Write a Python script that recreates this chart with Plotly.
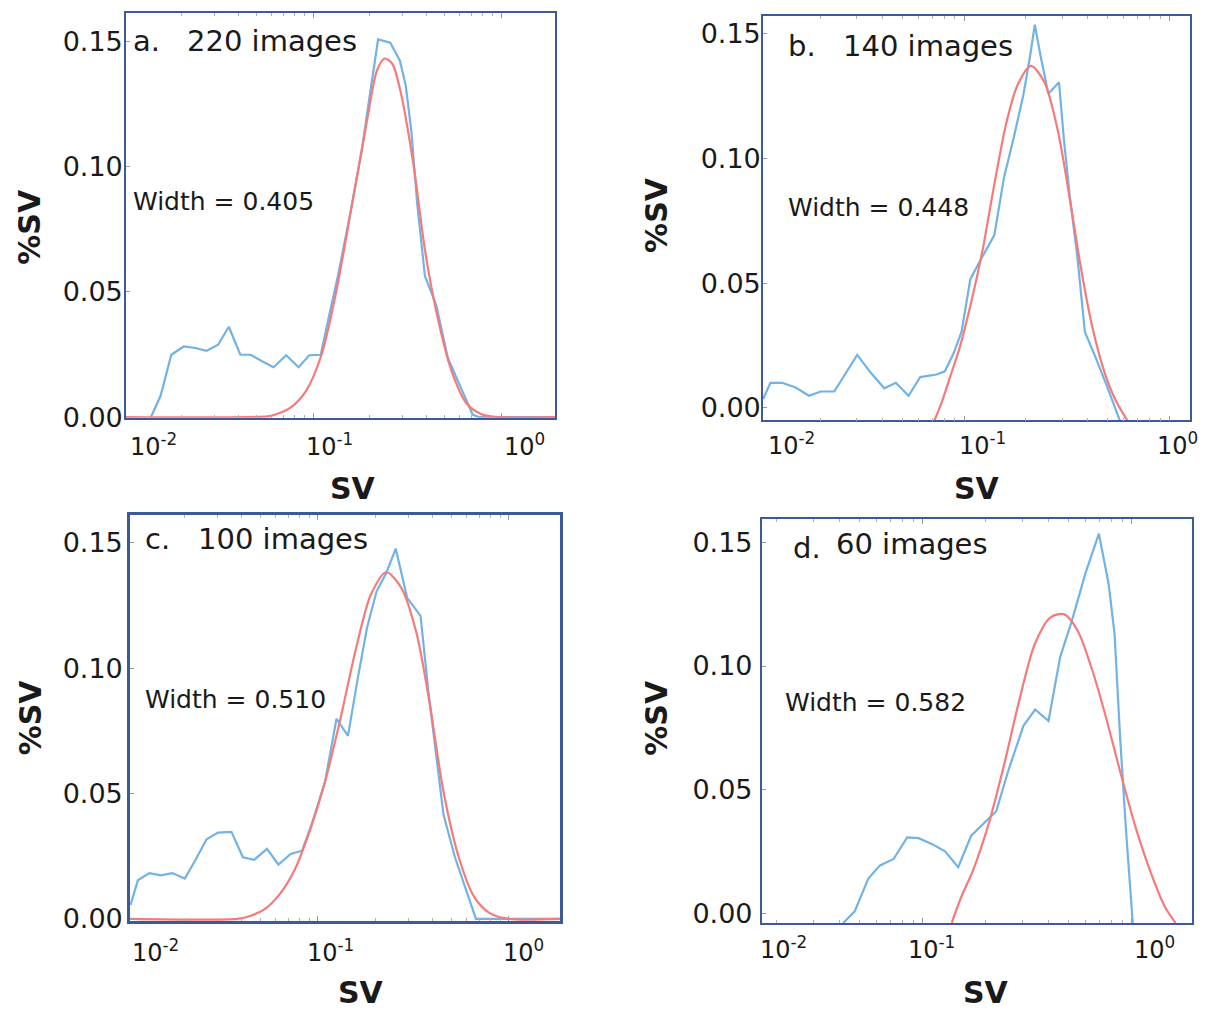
import plotly.graph_objects as go

PAGE_W, PAGE_H = 1208, 1025
BODY_MARGIN = 8                      # default page margin around the figure
W, H = PAGE_W - 2 * BODY_MARGIN, PAGE_H - 2 * BODY_MARGIN

# ---------------- data (log10 SV, %SV) ----------------
a_blue_log = [-1.862, -1.811, -1.754, -1.688, -1.627, -1.566, -1.505, -1.448, -1.387, -1.332,
              -1.271, -1.210, -1.143, -1.077, -1.020, -0.959, -0.914, -0.864, -0.802, -0.741,
              -0.701, -0.654, -0.589, -0.538, -0.507, -0.477, -0.446, -0.405, -0.344, -0.283,
              -0.222, -0.151, -0.120, 0.287]
a_blue_pct = [0.0, 0.0085, 0.0249, 0.0282, 0.0276, 0.0265, 0.0289, 0.0361, 0.0249, 0.0249,
              0.0223, 0.0199, 0.0247, 0.0199, 0.0247, 0.0249, 0.0407, 0.0577, 0.0814, 0.1063,
              0.1273, 0.1509, 0.1496, 0.1424, 0.1325, 0.1142, 0.0853, 0.0564, 0.0446, 0.0236,
              0.0131, 0.001, 0.0, 0.0]
a_red_log = [-1.995, -1.240, -1.200, -1.118, -1.037, -0.955, -0.874, -0.792, -0.711, -0.660,
             -0.619, -0.578, -0.538, -0.466, -0.405, -0.344, -0.263, -0.181, -0.100, -0.018, 0.287]
a_red_pct = [0.0, 0.0003, 0.001, 0.0039, 0.0105, 0.0249, 0.0512, 0.0853, 0.1194, 0.1385,
             0.1433, 0.1411, 0.1312, 0.1010, 0.0669, 0.0420, 0.0184, 0.0052, 0.001, 0.0, 0.0]

b_blue_log = [-1.979, -1.944, -1.887, -1.821, -1.756, -1.699, -1.633, -1.521, -1.455, -1.389,
              -1.333, -1.271, -1.214, -1.135, -1.094, -1.051, -1.013, -0.970, -0.919, -0.853,
              -0.806, -0.759, -0.712, -0.680, -0.656, -0.628, -0.590, -0.538, -0.515, -0.487,
              -0.449, -0.412, -0.365, -0.308, -0.242]
b_blue_pct = [0.0036, 0.0101, 0.0101, 0.0082, 0.0049, 0.0066, 0.0066, 0.0213, 0.0141, 0.0079,
              0.0101, 0.0049, 0.0124, 0.0134, 0.0147, 0.0220, 0.0305, 0.0516, 0.0595, 0.0693,
              0.0924, 0.1082, 0.1253, 0.1404, 0.1536, 0.1411, 0.1259, 0.1305, 0.1082, 0.0858,
              0.0608, 0.0305, 0.0213, 0.0095, -0.005]
b_red_log = [-1.145, -1.107, -1.070, -1.023, -0.966, -0.910, -0.853, -0.797, -0.741, -0.675,
             -0.609, -0.543, -0.487, -0.430, -0.374, -0.318, -0.261, -0.205]
b_red_pct = [-0.005, 0.0029, 0.0121, 0.0239, 0.0424, 0.0634, 0.0897, 0.1134, 0.1292, 0.1371,
             0.1305, 0.1108, 0.0845, 0.0555, 0.0318, 0.0147, 0.0029, -0.005]

c_blue_log = [-1.980, -1.942, -1.882, -1.822, -1.762, -1.696, -1.642, -1.582, -1.522, -1.452,
              -1.392, -1.332, -1.266, -1.206, -1.142, -1.082, -1.032, -0.962, -0.902, -0.842,
              -0.792, -0.742, -0.692, -0.642, -0.592, -0.532, -0.462, -0.422, -0.382, -0.342,
              -0.282, -0.222, -0.172, 0.268]
c_blue_pct = [0.0056, 0.0154, 0.0183, 0.0174, 0.0183, 0.0161, 0.0233, 0.0318, 0.0344, 0.0347,
              0.0246, 0.0236, 0.0279, 0.0217, 0.0259, 0.0272, 0.0377, 0.0547, 0.0798, 0.0730,
              0.0953, 0.1162, 0.1306, 0.1378, 0.1476, 0.1280, 0.1208, 0.0914, 0.0665, 0.0416,
              0.0246, 0.0115, 0.0, 0.0]
c_red_log = [-1.982, -1.422, -1.362, -1.282, -1.202, -1.122, -1.042, -0.962, -0.882, -0.802,
             -0.722, -0.642, -0.562, -0.482, -0.412, -0.342, -0.262, -0.182, -0.102, -0.002, 0.268]
c_red_pct = [0.0, 0.0, 0.001, 0.0037, 0.0096, 0.0194, 0.0351, 0.0547, 0.0796, 0.1071,
             0.1293, 0.1382, 0.1319, 0.1136, 0.0848, 0.0508, 0.0246, 0.0089, 0.0024, 0.0, 0.0]

d_blue_log = [-1.380, -1.325, -1.260, -1.204, -1.139, -1.074, -1.019, -0.954, -0.893, -0.830,
              -0.768, -0.713, -0.648, -0.592, -0.518, -0.462, -0.398, -0.342, -0.286, -0.221,
              -0.157, -0.110, -0.082, -0.055, -0.027, 0.005]
d_blue_pct = [-0.004, 0.0007, 0.0140, 0.0193, 0.0219, 0.0306, 0.0303, 0.0279, 0.0250, 0.0186,
              0.0313, 0.0359, 0.0412, 0.0572, 0.0758, 0.0824, 0.0778, 0.1037, 0.1184, 0.1376,
              0.1536, 0.1330, 0.1130, 0.0705, 0.0332, -0.004]
d_red_log = [-0.861, -0.815, -0.759, -0.685, -0.611, -0.537, -0.463, -0.388, -0.324, -0.259,
             -0.194, -0.129, -0.055, 0.019, 0.093, 0.158, 0.210]
d_red_pct = [-0.004, 0.0066, 0.0173, 0.0359, 0.0598, 0.0864, 0.1090, 0.1197, 0.1210, 0.1144,
             0.0997, 0.0811, 0.0572, 0.0346, 0.0160, 0.0027, -0.004]

panel_letters = ["a.", "b.", "c.", "d."]
image_counts = ["220 images", "140 images", "100 images", "60 images"]
fit_widths = ["Width = 0.405", "Width = 0.448", "Width = 0.510", "Width = 0.582"]
x_tick_labels = ["10<sup>-2</sup>", "10<sup>-1</sup>", "10<sup>0</sup>"]
y_tick_values = [0.0, 0.05, 0.10, 0.15]
x_title = "SV"
y_title = "%SV"

blue_log = {"a": a_blue_log, "b": b_blue_log, "c": c_blue_log, "d": d_blue_log}
blue_pct = {"a": a_blue_pct, "b": b_blue_pct, "c": c_blue_pct, "d": d_blue_pct}
red_log = {"a": a_red_log, "b": b_red_log, "c": c_red_log, "d": d_red_log}
red_pct = {"a": a_red_pct, "b": b_red_pct, "c": c_red_pct, "d": d_red_pct}

# ---------------- layout / style (pixel positions on the 1208x1025 page) ----------------
BLUE = "#72B2E4"
RED = "#F77A7A"
FRAME = "#3C5A9A"
FONT = "DejaVu Sans"
TXT = "#1a1a1a"

STYLE = {
    "a": dict(frame=(126, 555, 13.3, 424), xr=(-1.995, 0.287), yr=(-0.0003, 0.1614), lw=1.6, ystand=-4,
              letter=(131, 41.7), count=(185, 41.7), width=(131, 204.7),
              xt=([153.5, 329, 524.5], 452), ytitle=(30, 230), xtitle=(353, 496)),
    "b": dict(frame=(763, 1190, 16, 426.7), xr=(-1.98, 0.10), yr=(-0.005, 0.1571), lw=1.6, ystand=-5,
              letter=(786, 47), count=(841, 47), width=(786, 211),
              xt=([791, 982.5, 1177], 451), ytitle=(657, 218), xtitle=(977, 496)),
    "c": dict(frame=(130, 560, 522.7, 935), xr=(-1.983, 0.268), yr=(-0.0009, 0.161), lw=2.6, ystand=-1,
              letter=(143, 547.5), count=(196, 547.5), width=(143, 710),
              xt=([155, 330, 523], 965), ytitle=(30, 728), xtitle=(361, 1007)),
    "d": dict(frame=(761.7, 1191.7, 527, 937), xr=(-1.77, 0.287), yr=(-0.0041, 0.1594), lw=1.6, ystand=2,
              letter=(790.7, 556), count=(833.5, 551.7), width=(783, 713),
              xt=([784, 931, 1154], 962), ytitle=(657, 728.5), xtitle=(986, 1007)),
}


def fx(x):
    return (x - BODY_MARGIN) / W


def fy(y):
    return 1 - (y - BODY_MARGIN) / H


fig = go.Figure()
annotations = []
layout_axes = {}


def ann(text, pos, size, xanchor="left", bold=False, angle=0):
    annotations.append(dict(
        text=text, x=fx(pos[0]), y=fy(pos[1]), xref="paper", yref="paper", showarrow=False,
        xanchor=xanchor, yanchor="middle", textangle=angle,
        font=dict(family=FONT, size=size, color=TXT, weight="bold" if bold else "normal")))


for i, key in enumerate("abcd"):
    st = STYLE[key]
    n = i + 1
    sfx = "" if n == 1 else str(n)
    xa, ya = "x" + sfx, "y" + sfx

    fig.add_trace(go.Scatter(
        x=[10 ** v for v in blue_log[key]], y=blue_pct[key], mode="lines",
        line=dict(color=BLUE, width=2.2), xaxis=xa, yaxis=ya, showlegend=False,
        name="measured"))
    fig.add_trace(go.Scatter(
        x=[10 ** v for v in red_log[key]], y=red_pct[key], mode="lines",
        line=dict(color=RED, width=2.2, shape="spline", smoothing=0.8), xaxis=xa, yaxis=ya,
        showlegend=False, name="fit"))

    L, R, T, B = st["frame"]
    layout_axes["xaxis" + sfx] = dict(
        type="log", domain=[fx(L), fx(R)], range=list(st["xr"]), anchor=ya,
        showline=True, mirror="ticks", linecolor=FRAME, linewidth=st["lw"],
        showgrid=False, zeroline=False, showticklabels=False,
        ticks="inside", ticklen=5, tickcolor="#9a9a9a", tickwidth=1, dtick=1,
        minor=dict(ticks="inside", ticklen=3, tickcolor="#b0b0b0", dtick="D1", showgrid=False),
    )
    layout_axes["yaxis" + sfx] = dict(
        domain=[fy(B), fy(T)], range=list(st["yr"]), anchor=xa,
        showline=True, mirror=True, linecolor=FRAME, linewidth=st["lw"],
        showgrid=False, zeroline=False, tickvals=y_tick_values, tickformat=".2f",
        ticks="inside", ticklen=4, tickcolor="#9a9a9a",
        tickfont=dict(family=FONT, size=27, color=TXT), ticklabelstandoff=st["ystand"],
    )

    ann(panel_letters[i], st["letter"], 29)
    ann(image_counts[i], st["count"], 29)
    ann(fit_widths[i], st["width"], 25)
    xs, yline = st["xt"]
    for lab, cx in zip(x_tick_labels, xs):
        ann(lab, (cx, yline), 24, xanchor="center")
    ann(y_title, st["ytitle"], 30, xanchor="center", bold=True, angle=-90)
    ann(x_title, st["xtitle"], 30, xanchor="center", bold=True)

fig.update_layout(
    width=W, height=H, margin=dict(l=0, r=0, t=0, b=0),
    paper_bgcolor="white", plot_bgcolor="white",
    annotations=annotations, showlegend=False, **layout_axes,
)

fig.write_html("out.html", config={"displayModeBar": False})
